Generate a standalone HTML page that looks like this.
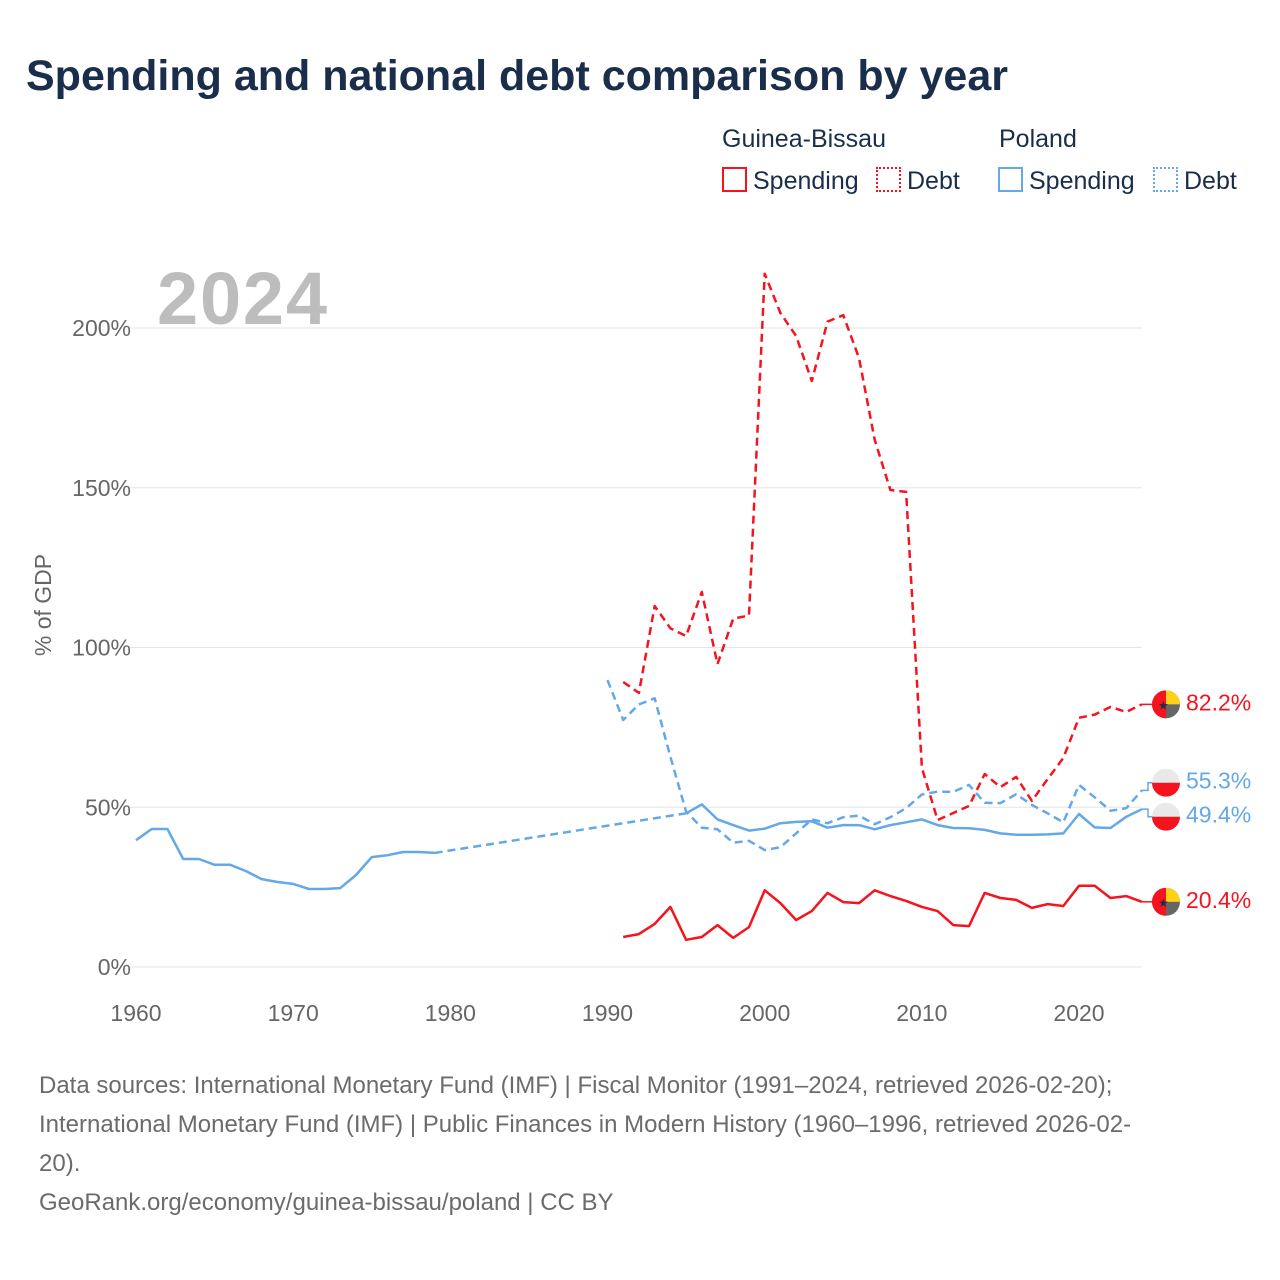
<!DOCTYPE html>
<html><head><meta charset="utf-8">
<style>
body{margin:0;background:#fff;font-family:"Liberation Sans",sans-serif;}
#wrap{position:relative;width:1280px;height:1280px;overflow:hidden;}
.t{position:absolute;white-space:nowrap;}
</style></head>
<body>
<div id="wrap">
<div class="t" style="left:26px;top:52px;font-size:43px;font-weight:bold;color:#1a2e4c;">Spending and national debt comparison by year</div>
<div class="t" style="left:722px;top:125px;font-size:25px;color:#1a2e4c;">Guinea-Bissau</div>
<div class="t" style="left:999px;top:125px;font-size:25px;color:#1a2e4c;">Poland</div>
<div class="t" style="left:722px;top:167px;font-size:25px;color:#1a2e4c;"><span style="display:inline-block;width:21px;height:21px;border:2px solid #f5141e;vertical-align:-3px;margin-right:6px;"></span>Spending</div>
<div class="t" style="left:876px;top:167px;font-size:25px;color:#1a2e4c;"><span style="display:inline-block;width:21px;height:21px;border:2px dotted #f5141e;vertical-align:-3px;margin-right:6px;"></span>Debt</div>
<div class="t" style="left:998px;top:167px;font-size:25px;color:#1a2e4c;"><span style="display:inline-block;width:21px;height:21px;border:2px solid #64a8e8;vertical-align:-3px;margin-right:6px;"></span>Spending</div>
<div class="t" style="left:1153px;top:167px;font-size:25px;color:#1a2e4c;"><span style="display:inline-block;width:21px;height:21px;border:2px dotted #64a8e8;vertical-align:-3px;margin-right:6px;"></span>Debt</div>
<svg id="chart" width="1280" height="1280" style="position:absolute;left:0;top:0;" xmlns="http://www.w3.org/2000/svg"></svg>
<div class="t" style="left:39px;top:1066px;font-size:24px;line-height:39px;color:#6b6b6b;">Data sources: International Monetary Fund (IMF) | Fiscal Monitor (1991–2024, retrieved 2026-02-20);<br>International Monetary Fund (IMF) | Public Finances in Modern History (1960–1996, retrieved 2026-02-<br>20).<br>GeoRank.org/economy/guinea-bissau/poland | CC BY</div>
</div>
<script>
const xTicks=[1960,1970,1980,1990,2000,2010,2020];
const yTicks=[0,50,100,150,200];
const gbYears0=1991;
const gbDebt=[89.2,85.8,113,106,103.6,117.4,94.8,109,110,217,204.7,197.5,183.4,202,204,190.6,165,149.3,148.7,62.3,46,48.2,50.4,60.4,56.3,59.5,52,58.8,65.4,78,79,81.4,79.8,82.2];
const gbSpend=[9.4,10.3,13.5,18.8,8.5,9.4,13.1,9.1,12.5,24,20,14.7,17.5,23.2,20.3,20,24,22.2,20.7,18.8,17.5,13.1,12.8,23.2,21.6,21,18.5,19.7,19.1,25.4,25.4,21.6,22.2,20.4];
const plSpendEarly=[39.7,43.2,43.2,33.8,33.8,32,32,30,27.5,26.6,26,24.4,24.4,24.7,28.8,34.4,35,36,36,35.7];
const plSpendLate0=1995;
const plSpendLate=[48.1,50.9,46.2,44.4,42.7,43.3,45,45.4,45.6,43.6,44.4,44.4,43.1,44.4,45.3,46.2,44.4,43.5,43.4,42.9,41.8,41.4,41.4,41.5,41.8,47.9,43.7,43.5,47,49.4];
const plDebt0=1990;
const plDebt=[89.8,77.3,82.2,84.1,65.8,48.6,43.6,43.1,38.9,39.5,36.6,37.5,41.8,46.2,45,46.9,47.4,44.7,46.9,49.7,54,54.9,54.8,57,51.4,51.3,54.1,50.7,48.1,45.3,57,53.1,48.9,49.7,55.3];
const endLabels=["82.2%","55.3%","49.4%","20.4%"];

const NS="http://www.w3.org/2000/svg";
const svg=document.getElementById('chart');
const X=y=>136+(y-1960)*15.717;
const Y=v=>967-v*3.195;
const RED="#f5141e",BLUE="#64a8e8";
function mk(t,a){const e=document.createElementNS(NS,t);for(const k in a)e.setAttribute(k,a[k]);svg.appendChild(e);return e;}
yTicks.forEach(v=>{
  const l=mk('line',{x1:130,x2:1142,y1:Y(v),y2:Y(v),stroke:'#e6e6e6','stroke-width':1});
  
  
  const t=mk('text',{x:131,y:Y(v)+8,'text-anchor':'end','font-size':23,fill:'#666','font-family':'Liberation Sans, sans-serif'});
  t.textContent=v+'%';
  
  
});
xTicks.forEach(v=>{
  const t=mk('text',{x:X(v),y:1021,'text-anchor':'middle','font-size':23,fill:'#666','font-family':'Liberation Sans, sans-serif'});
  t.textContent=v;
  
  
});
const yt=mk('text',{x:0,y:0,transform:'translate(51,605) rotate(-90)','text-anchor':'middle','font-size':23,fill:'#666','font-family':'Liberation Sans, sans-serif'});
yt.textContent='% of GDP';


const yr=mk('text',{x:157,y:324,'font-size':74,'font-weight':'bold',fill:'#bdbdbd','font-family':'Liberation Sans, sans-serif',textLength:170});
yr.textContent='2024';


function line(start,vals,color,dash,name){
  const pts=vals.map((v,i)=>X(start+i).toFixed(1)+','+Y(v).toFixed(1)).join(' ');
  const p=mk('polyline',{points:pts,fill:'none',stroke:color,'stroke-width':2.5,'stroke-linejoin':'round'});
  if(dash)p.setAttribute('stroke-dasharray','8,5');
  
  
}
line(1960,plSpendEarly,BLUE,false,'poland-spending-line-early');
const gap=mk('line',{x1:X(1979),y1:Y(plSpendEarly[19]),x2:X(plSpendLate0),y2:Y(plSpendLate[0]),stroke:BLUE,'stroke-width':2.5,'stroke-dasharray':'8,5'});


line(plSpendLate0,plSpendLate,BLUE,false,'poland-spending-line');
line(plDebt0,plDebt,BLUE,true,'poland-debt-line');
line(gbYears0,gbSpend,RED,false,'gb-spending-line');
line(gbYears0,gbDebt,RED,true,'gb-debt-line');
const ends=[[gbDebt[gbDebt.length-1],RED,'gb'],[plDebt[plDebt.length-1],BLUE,'pl'],[plSpendLate[plSpendLate.length-1],BLUE,'pl'],[gbSpend[gbSpend.length-1],RED,'gb']];
const ys=ends.map(e=>Y(e[0]));
for(let i=1;i<ys.length;i++){if(ys[i]-ys[i-1]<34){const m=(ys[i]+ys[i-1])/2;ys[i-1]=m-17;ys[i]=m+17;}}
ends.forEach((e,i)=>{
  const py=Y(e[0]),cy=ys[i];
  const c=mk('polyline',{points:`${X(2024)},${py} 1148,${py} 1148,${cy} 1154,${cy}`,fill:'none',stroke:e[1],'stroke-width':1.5});
  
  
  const g=document.createElementNS(NS,'g');svg.appendChild(g);
  
  
  const cx=1166,r=14;
  if(e[2]==='gb'){
    g.innerHTML=`<clipPath id="c${i}"><circle cx="${cx}" cy="${cy}" r="${r}"/></clipPath><g clip-path="url(#c${i})"><rect x="${cx-r}" y="${cy-r}" width="${2*r}" height="${2*r}" fill="#666"/><rect x="${cx}" y="${cy-r}" width="${r}" height="${r}" fill="#fcd116"/><rect x="${cx-r}" y="${cy-r}" width="${r}" height="${2*r}" fill="${RED}"/></g><text x="${cx-8}" y="${cy+5}" font-size="12" fill="#1a2e4c">★</text>`;
  }else{
    g.innerHTML=`<clipPath id="c${i}"><circle cx="${cx}" cy="${cy}" r="${r}"/></clipPath><g clip-path="url(#c${i})"><rect x="${cx-r}" y="${cy-r}" width="${2*r}" height="${r}" fill="#e9e9e9"/><rect x="${cx-r}" y="${cy}" width="${2*r}" height="${r}" fill="${RED}"/></g>`;
  }
  const t=mk('text',{x:1186,y:cy+6,'font-size':23,fill:e[1],'font-family':'Liberation Sans, sans-serif'});
  t.textContent=endLabels[i];
  
  
});
</script>
</body></html>
